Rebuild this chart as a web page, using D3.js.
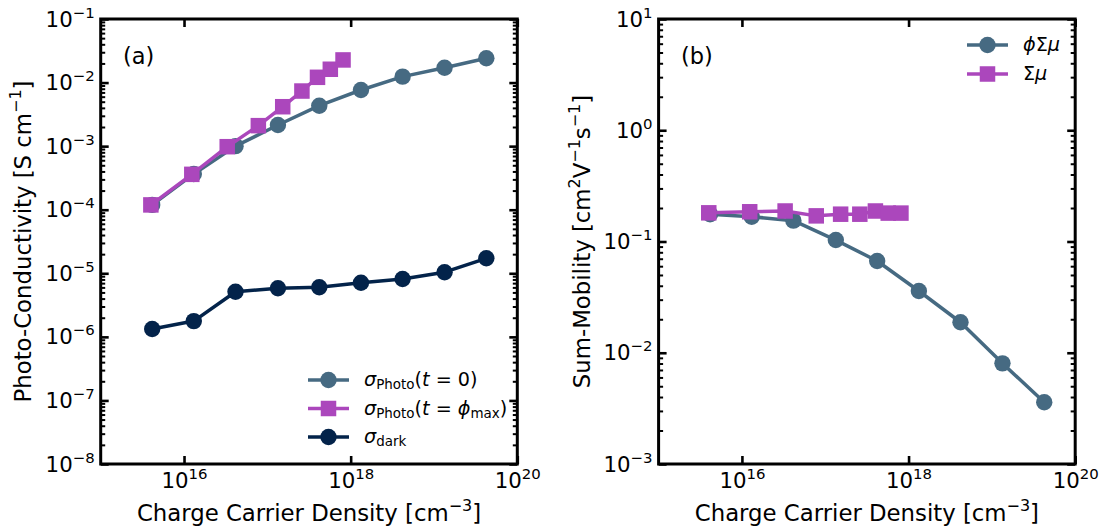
<!DOCTYPE html>
<html>
<head>
<meta charset="utf-8">
<script src="https://cdn.jsdelivr.net/npm/d3@7"></script>
<style>
  body { margin: 0; background: #fff; }
  svg { display: block; }
  text { font-family: "DejaVu Sans", sans-serif; fill: #000; white-space: pre; }
</style>
</head>
<body>
<svg id="chart" width="1102" height="529"></svg>
<script>
// Charge carrier densities (cm^-3)
const densityT0   = [4.15e15, 1.31e16, 4.15e16, 1.34e17, 4.2e17, 1.33e18, 4.2e18, 1.34e19, 4.25e19];
const densityPeak = [4.0e15, 1.24e16, 3.3e16, 7.8e16, 1.53e17, 2.6e17, 4.0e17, 5.7e17, 8.1e17];

// Photo-conductivity (S cm^-1)
const sigmaT0   = [1.19e-4, 3.65e-4, 1.0e-3, 2.15e-3, 4.33e-3, 7.64e-3, 1.24e-2, 1.71e-2, 2.41e-2];
const sigmaPeak = [1.19e-4, 3.6e-4, 9.8e-4, 2.1e-3, 4.17e-3, 7.36e-3, 1.21e-2, 1.62e-2, 2.27e-2];
const sigmaDark = [1.33e-6, 1.77e-6, 5.13e-6, 5.81e-6, 6.02e-6, 7.11e-6, 8.13e-6, 1.04e-5, 1.72e-5];

// Sum mobility (cm^2 V^-1 s^-1)
const phiSumMu = [0.1755, 0.167, 0.154, 0.103, 0.0668, 0.0359, 0.0188, 0.00803, 0.00359];
const sumMu    = [0.181, 0.185, 0.188, 0.170, 0.176, 0.176, 0.188, 0.180, 0.180];

// Axis ranges and labelled decades (exponents of ten)
const xDomain = [1e15, 1e20];
const xTickExps = [16, 18, 20];
const yDomainA = [1e-8, 1e-1];
const yTickExpsA = [-8, -7, -6, -5, -4, -3, -2, -1];
const yDomainB = [1e-3, 1e1];
const yTickExpsB = [-3, -2, -1, 0, 1];

const COLOR_T0 = "#466a82", COLOR_PEAK = "#ab47bc", COLOR_DARK = "#03234a";
const TICK_FS = 21.3, TITLE_FS = 22.8, LEG_FS = 19.2, TAG_FS = 22.5;

const svg = d3.select("#chart");

// Appends mixed text runs (italic / superscript / subscript) to a <text>.
function richText(sel, parts, size) {
  let shift = 0;
  parts.forEach(p => {
    const ts = sel.append("tspan").text(p.t);
    let target = 0;
    if (p.k === "sup") { ts.attr("font-size", size * 0.7); target = -0.42 * size; }
    else if (p.k === "sub") { ts.attr("font-size", size * 0.7); target = 0.18 * size; }
    if (p.i) ts.attr("font-style", "italic");
    if (target !== shift) { ts.attr("dy", target - shift); shift = target; }
  });
}

function powParts(e) {
  return [{t: "10"}, {t: e < 0 ? "\u2212" + (-e) : String(e), k: "sup"}];
}

function minorValues(domain) {
  const lo = Math.round(Math.log10(domain[0])), hi = Math.round(Math.log10(domain[1]));
  const out = [];
  for (let e = lo; e < hi; e++) for (let k = 2; k <= 9; k++) out.push(k * Math.pow(10, e));
  return out;
}

function addAxis(g, gen, transform, values, size, width) {
  const a = g.append("g").attr("transform", transform)
    .call(gen.tickValues(values).tickSizeInner(-size).tickSizeOuter(0).tickFormat(() => ""));
  a.select(".domain").remove();
  a.selectAll(".tick line").attr("stroke", "#000").attr("stroke-width", width);
  return a;
}

function makePanel(box, yDomain, yExps, yTitleParts, yTitleX, tag) {
  const w = box.x1 - box.x0, h = box.y1 - box.y0;
  const g = svg.append("g").attr("transform", `translate(${box.x0},${box.y0})`);
  const x = d3.scaleLog().domain(xDomain).range([0, w]);
  const y = d3.scaleLog().domain(yDomain).range([h, 0]);

  const xMajor = xTickExps.map(e => Math.pow(10, e));
  const yMajor = yExps.map(e => Math.pow(10, e));
  const yMinor = minorValues(yDomain);

  // ticks on all four sides, pointing inward
  const bottom = addAxis(g, d3.axisBottom(x), `translate(0,${h})`, xMajor, 8, 2.6);
  addAxis(g, d3.axisTop(x), "translate(0,0)", xMajor, 8, 2.6);
  const left = addAxis(g, d3.axisLeft(y), "translate(0,0)", yMajor, 8, 2.6);
  addAxis(g, d3.axisLeft(y), "translate(0,0)", yMinor, 4.5, 2);
  addAxis(g, d3.axisRight(y), `translate(${w},0)`, yMajor, 8, 2.6);
  addAxis(g, d3.axisRight(y), `translate(${w},0)`, yMinor, 4.5, 2);

  bottom.selectAll(".tick text").each(function(d) {
    const t = d3.select(this).attr("y", 24).attr("dy", null)
      .attr("font-size", TICK_FS).attr("font-family", "DejaVu Sans")
      .attr("text-anchor", "middle").attr("fill", "#000");
    richText(t, powParts(Math.round(Math.log10(d))), TICK_FS);
  });
  left.selectAll(".tick text").each(function(d) {
    const t = d3.select(this).attr("x", -6).attr("y", 7).attr("dy", null)
      .attr("font-size", TICK_FS).attr("font-family", "DejaVu Sans")
      .attr("text-anchor", "end").attr("fill", "#000");
    richText(t, powParts(Math.round(Math.log10(d))), TICK_FS);
  });

  // frame
  g.append("rect").attr("width", w).attr("height", h)
    .attr("fill", "none").attr("stroke", "#000").attr("stroke-width", 3);

  // axis titles
  const xt = svg.append("text").attr("x", (box.x0 + box.x1) / 2).attr("y", 521)
    .attr("text-anchor", "middle").attr("font-size", TITLE_FS);
  richText(xt, [{t: "Charge Carrier Density [cm"}, {t: "\u22123", k: "sup"}, {t: "]"}], TITLE_FS);
  const yt = svg.append("text")
    .attr("transform", `translate(${yTitleX},${(box.y0 + box.y1) / 2}) rotate(-90)`)
    .attr("text-anchor", "middle").attr("font-size", TITLE_FS);
  richText(yt, yTitleParts, TITLE_FS);

  g.append("text").attr("x", 22.3).attr("y", 45).attr("font-size", TAG_FS).text(tag);

  return {g, x, y, w, h};
}

function drawSeries(p, xs, ys, color, shape) {
  const pts = xs.map((v, i) => [v, ys[i]]);
  const line = d3.line().x(d => p.x(d[0])).y(d => p.y(d[1]));
  p.g.append("path").datum(pts).attr("d", line)
    .attr("fill", "none").attr("stroke", color).attr("stroke-width", 3.5)
    .attr("stroke-linejoin", "round");
  drawMarkers(p.g, pts.map(d => [p.x(d[0]), p.y(d[1])]), color, shape);
}

function drawMarkers(g, xy, color, shape) {
  if (shape === "circle") {
    g.selectAll(null).data(xy).enter().append("circle")
      .attr("cx", d => d[0]).attr("cy", d => d[1]).attr("r", 8.2).attr("fill", color);
  } else {
    const s = 15.5;
    g.selectAll(null).data(xy).enter().append("rect")
      .attr("x", d => d[0] - s / 2).attr("y", d => d[1] - s / 2)
      .attr("width", s).attr("height", s).attr("fill", color);
  }
}

function drawLegend(g, x0, entries) {
  entries.forEach(e => {
    g.append("line").attr("x1", x0).attr("x2", x0 + 41).attr("y1", e.y).attr("y2", e.y)
      .attr("stroke", e.color).attr("stroke-width", 3.5);
    drawMarkers(g, [[x0 + 20.5, e.y]], e.color, e.shape);
    const t = g.append("text").attr("x", x0 + 56).attr("y", e.y + 6).attr("font-size", LEG_FS);
    richText(t, e.parts, LEG_FS);
  });
}

// (a) photo-conductivity
const pA = makePanel({x0: 100.7, x1: 517.3, y0: 19, y1: 464}, yDomainA, yTickExpsA,
  [{t: "Photo-Conductivity [S cm"}, {t: "\u22121", k: "sup"}, {t: "]"}], 31, "(a)");
drawSeries(pA, densityT0, sigmaT0, COLOR_T0, "circle");
drawSeries(pA, densityPeak, sigmaPeak, COLOR_PEAK, "square");
drawSeries(pA, densityT0, sigmaDark, COLOR_DARK, "circle");
drawLegend(pA.g, 207.3, [
  {y: 361, color: COLOR_T0, shape: "circle",
   parts: [{t: "\u03C3", i: 1}, {t: "Photo", k: "sub"}, {t: "("}, {t: "t", i: 1}, {t: " = 0)"}]},
  {y: 389.5, color: COLOR_PEAK, shape: "square",
   parts: [{t: "\u03C3", i: 1}, {t: "Photo", k: "sub"}, {t: "("}, {t: "t", i: 1}, {t: " = "},
           {t: "\u03D5", i: 1}, {t: "max", k: "sub"}, {t: ")"}]},
  {y: 418, color: COLOR_DARK, shape: "circle",
   parts: [{t: "\u03C3", i: 1}, {t: "dark", k: "sub"}]}
]);

// (b) sum mobility
const pB = makePanel({x0: 658.6, x1: 1075.2, y0: 19, y1: 464}, yDomainB, yTickExpsB,
  [{t: "Sum-Mobility [cm"}, {t: "2", k: "sup"}, {t: "V"}, {t: "\u22121", k: "sup"},
   {t: "s"}, {t: "\u22121", k: "sup"}, {t: "]"}], 590, "(b)");
drawSeries(pB, densityT0, phiSumMu, COLOR_T0, "circle");
drawSeries(pB, densityPeak, sumMu, COLOR_PEAK, "square");
drawLegend(pB.g, 308.4, [
  {y: 26, color: COLOR_T0, shape: "circle",
   parts: [{t: "\u03D5", i: 1}, {t: "\u03A3"}, {t: "\u03BC", i: 1}]},
  {y: 55, color: COLOR_PEAK, shape: "square",
   parts: [{t: "\u03A3"}, {t: "\u03BC", i: 1}]}
]);
</script>
</body>
</html>
